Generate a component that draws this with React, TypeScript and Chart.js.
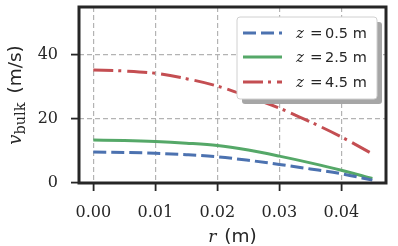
import React, { useEffect, useRef } from 'react';
import { Chart, registerables } from 'chart.js';

Chart.register(...registerables);

const radii = [0, 0.005, 0.01, 0.015, 0.02, 0.025, 0.03, 0.035, 0.04, 0.045];
const vZ05 = [9.7, 9.55, 9.3, 8.85, 8.2, 7.1, 5.8, 4.4, 2.9, 0.9];
const vZ25 = [13.4, 13.25, 12.95, 12.45, 11.75, 10.3, 8.4, 6.3, 4.0, 1.4];
const vZ45 = [35.3, 35.0, 34.3, 32.6, 30.3, 27.0, 23.4, 19.1, 14.4, 9.1];
const zLabels = ['0.5', '2.5', '4.5'];
const xTicks = [0, 0.01, 0.02, 0.03, 0.04];
const yTicks = [0, 20, 40];

const COLORS = ['#4C72B0', '#55A868', '#C44E52'];
const DASHES = [[13, 5], [], [20, 5, 3, 6]];
const TEXT = '#262626';

const framePlugin = {
  id: 'frame',
  afterDatasetsDraw(chart: any) {
    const { ctx, chartArea: a } = chart;
    ctx.save();
    ctx.strokeStyle = TEXT;
    ctx.lineWidth = 3;
    ctx.strokeRect(a.left, a.top, a.right - a.left, a.bottom - a.top);
    ctx.restore();
  },
};

const legendPlugin = {
  id: 'customLegend',
  afterDraw(chart: any) {
    const { ctx, chartArea: a } = chart;
    const bx = a.right - 149;
    const by = a.top + 10;
    const bw = 140;
    const bh = 82;
    const rr = (x: number, y: number, w: number, h: number, r: number) => {
      ctx.beginPath();
      ctx.moveTo(x + r, y);
      ctx.lineTo(x + w - r, y);
      ctx.quadraticCurveTo(x + w, y, x + w, y + r);
      ctx.lineTo(x + w, y + h - r);
      ctx.quadraticCurveTo(x + w, y + h, x + w - r, y + h);
      ctx.lineTo(x + r, y + h);
      ctx.quadraticCurveTo(x, y + h, x, y + h - r);
      ctx.lineTo(x, y + r);
      ctx.quadraticCurveTo(x, y, x + r, y);
      ctx.closePath();
    };
    ctx.save();
    ctx.setLineDash([]);
    rr(bx + 5, by + 5, bw, bh, 3);
    ctx.fillStyle = '#a6a6a6';
    ctx.fill();
    rr(bx, by, bw, bh, 3);
    ctx.fillStyle = '#ffffff';
    ctx.fill();
    ctx.strokeStyle = '#d0d0d0';
    ctx.lineWidth = 1;
    ctx.stroke();
    const rows = [by + 16, by + 40, by + 65];
    chart.data.datasets.forEach((ds: any, i: number) => {
      const y = rows[i];
      ctx.save();
      ctx.strokeStyle = ds.borderColor;
      ctx.lineWidth = 3;
      ctx.lineCap = 'butt';
      ctx.setLineDash(ds.borderDash || []);
      ctx.beginPath();
      ctx.moveTo(bx + 6, y);
      ctx.lineTo(bx + 45, y);
      ctx.stroke();
      ctx.restore();
      ctx.fillStyle = TEXT;
      ctx.textBaseline = 'alphabetic';
      ctx.textAlign = 'left';
      const base = y + 5;
      ctx.font = 'italic 15px "DejaVu Serif"';
      ctx.fillText('z', bx + 59, base);
      ctx.font = '15px "DejaVu Serif"';
      ctx.fillText('=', bx + 73, base);
      ctx.font = '14.5px "DejaVu Sans"';
      ctx.fillText(zLabels[i] + ' m', bx + 88, base);
    });
    ctx.restore();
  },
};

const titlesPlugin = {
  id: 'axisTitles',
  afterDraw(chart: any) {
    const { ctx, chartArea: a } = chart;
    ctx.save();
    ctx.fillStyle = TEXT;
    ctx.textBaseline = 'alphabetic';
    ctx.textAlign = 'left';
    const xParts = [
      { t: 'r', f: 'italic 17px "DejaVu Serif"', dy: 0, gap: 8 },
      { t: '(m)', f: '18.5px "DejaVu Sans"', dy: 0, gap: 0 },
    ];
    let total = 0;
    xParts.forEach((p) => { ctx.font = p.f; total += ctx.measureText(p.t).width + p.gap; });
    let x = (a.left + a.right) / 2 - total / 2;
    xParts.forEach((p) => { ctx.font = p.f; ctx.fillText(p.t, x, 242 + p.dy); x += ctx.measureText(p.t).width + p.gap; });
    const yParts = [
      { t: 'v', f: 'italic 18px "DejaVu Serif"', dy: 0, gap: 0 },
      { t: 'bulk', f: '14.5px "DejaVu Serif"', dy: 4, gap: 9 },
      { t: '(m/s)', f: '18.5px "DejaVu Sans"', dy: 0, gap: 0 },
    ];
    total = 0;
    yParts.forEach((p) => { ctx.font = p.f; total += ctx.measureText(p.t).width + p.gap; });
    ctx.translate(21, (a.top + a.bottom) / 2);
    ctx.rotate(-Math.PI / 2);
    x = -total / 2;
    yParts.forEach((p) => { ctx.font = p.f; ctx.fillText(p.t, x, p.dy); x += ctx.measureText(p.t).width + p.gap; });
    ctx.restore();
  },
};

const zeroPad = (s: any) => { s.paddingTop = 0; s.paddingBottom = 0; s.paddingLeft = 0; s.paddingRight = 0; };

export default function App() {
  const canvasRef = useRef<HTMLCanvasElement | null>(null);

  useEffect(() => {
    document.body.style.margin = '0';
    const canvas = canvasRef.current;
    if (!canvas) return;
    const seriesValues = [vZ05, vZ25, vZ45];
    const chart = new Chart(canvas, {
      type: 'line',
      data: {
        datasets: seriesValues.map((vals, i) => ({
          label: 'z = ' + zLabels[i] + ' m',
          data: radii.map((r, j) => ({ x: r, y: vals[j] })),
          borderColor: COLORS[i],
          backgroundColor: COLORS[i],
          borderWidth: 3,
          borderDash: DASHES[i],
          borderCapStyle: 'butt',
          pointRadius: 0,
          cubicInterpolationMode: 'monotone',
          fill: false,
        })),
      },
      options: {
        animation: false,
        responsive: true,
        maintainAspectRatio: false,
        layout: { padding: { top: 7, right: 12, left: 0, bottom: 0 } },
        plugins: { legend: { display: false }, tooltip: { enabled: false }, title: { display: false } },
        scales: {
          x: {
            type: 'linear',
            min: -0.0023,
            max: 0.0472,
            afterBuildTicks: (s: any) => { s.ticks = xTicks.map((v) => ({ value: v })); },
            afterFit: (s: any) => { s.height = 63; zeroPad(s); },
            ticks: {
              callback: (v: any) => Number(v).toFixed(2),
              font: { family: '"DejaVu Serif"', size: 16 },
              color: TEXT,
              padding: 12,
              maxRotation: 0,
              autoSkip: false,
            },
            grid: {
              color: '#b3b3b3',
              lineWidth: 1.2,
              tickColor: TEXT,
              tickLength: 8,
              tickWidth: 1.8,
              tickBorderDash: [],
            },
            border: { display: false, dash: [5, 3] },
          },
          y: {
            type: 'linear',
            min: 0,
            max: 55,
            afterBuildTicks: (s: any) => { s.ticks = yTicks.map((v) => ({ value: v })); },
            afterFit: (s: any) => { s.width = 79; zeroPad(s); },
            ticks: {
              callback: (v: any) => String(v),
              font: { family: '"DejaVu Serif"', size: 16 },
              color: TEXT,
              padding: 13,
              autoSkip: false,
            },
            grid: {
              color: '#b3b3b3',
              lineWidth: 1.2,
              tickColor: TEXT,
              tickLength: 8,
              tickWidth: 1.8,
              tickBorderDash: [],
            },
            border: { display: false, dash: [5, 3] },
          },
        },
      } as any,
      plugins: [framePlugin, legendPlugin, titlesPlugin],
    });
    return () => chart.destroy();
  }, []);

  return (
    <div style={{ width: 398, height: 246, position: 'relative' }}>
      <canvas ref={canvasRef} />
    </div>
  );
}
